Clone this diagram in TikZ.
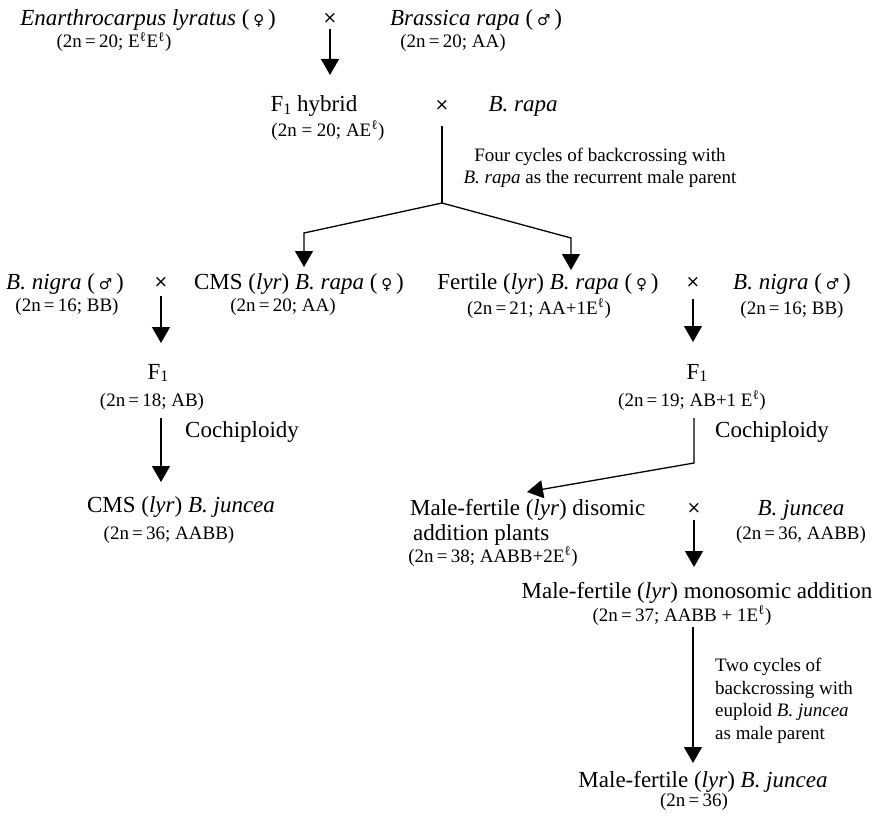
\documentclass[tikz,border=0pt]{standalone}
\usepackage{fontspec}
\setmainfont{Liberation Serif}
\newfontfamily\symfont{DejaVu Sans}
\usetikzlibrary{arrows.meta}
\newcommand{\myfem}{(\,{\symfont\fontsize{15}{15}\selectfont ♀}\,)}
\newcommand{\mymal}{(\,{\symfont\fontsize{15}{15}\selectfont ♂}\,)}
\newcommand{\El}{E\textsuperscript{ℓ}}
\newcommand{\Fone}{F\raisebox{-2.5pt}{\fontsize{16}{16}\selectfont 1}}
\newcommand{\eqs}{\,=\,}
\begin{document}
\begin{tikzpicture}[x=1pt, y={(0pt,-1pt)},
  mainf/.style={font=\fontsize{23}{26}\selectfont, inner sep=0pt, anchor=base},
  subf/.style={font=\fontsize{19}{22.7}\selectfont, inner sep=0pt, anchor=base},
  cross/.style={font=\symfont\fontsize{17}{17}\selectfont, inner sep=0pt},
  ln/.style={line width=1.3pt},
  arr/.style={line width=1.3pt, -{Triangle[width=18pt,length=16pt]}}]
\useasboundingbox (0,0) rectangle (887,816);

% Row 1
\node[mainf] (enar) at (148,26) {\textit{Enarthrocarpus lyratus} \myfem};
\node[subf] (enarsub) at (114,48) {(2n\eqs20; \El\El)};
\node[cross] (x1) at (330,18) {×};
\node[mainf] (brass) at (476,26) {\textit{Brassica rapa} \mymal};
\node[subf] (brasssub) at (453,48) {(2n\eqs20; AA)};
\coordinate (c1) at (330,75);
\draw[arr, shorten <=6pt] (x1.south) -- (c1);

% Row 2
\node[mainf] (f1h) at (314,112) {\Fone{} hybrid};
\node[subf] (f1hsub) at (328,136) {(2n = 20; A\El)};
\node[cross] (x2) at (442,105) {×};
\node[mainf] (brapa) at (523,112) {\textit{B. rapa}};
\node[subf, anchor=center, align=center, font=\fontsize{19}{22.5}\selectfont] (ann1) at (600,168)
  {Four cycles of backcrossing with\\\textit{B. rapa} as the recurrent male parent};
\coordinate (b0) at (442,203);
\coordinate (bl) at (304,233);
\coordinate (bl2) at (304,267);
\coordinate (br) at (571,238);
\coordinate (br2) at (571,270);
\draw[ln, shorten <=16pt] (x2.south) -- (b0);
\draw[arr] (b0) -- (bl) -- (bl2);
\draw[arr] (b0) -- (br) -- (br2);

% Row 3
\node[mainf] (bn1) at (65,289) {\textit{B. nigra} \mymal};
\node[subf] (bn1sub) at (67,311) {(2n\eqs16; BB)};
\node[cross] (x3) at (161,282) {×};
\node[mainf] (cms) at (299,289) {CMS (\textit{lyr}) \textit{B. rapa} \myfem};
\node[subf] (cmssub) at (283,311) {(2n\eqs20; AA)};
\node[mainf] (fert) at (548,289) {Fertile (\textit{lyr}) \textit{B. rapa} \myfem};
\node[subf] (fertsub) at (539,314) {(2n\eqs21; AA+1\El)};
\node[cross] (x4) at (693,282) {×};
\node[mainf] (bn2) at (792,289) {\textit{B. nigra} \mymal};
\node[subf] (bn2sub) at (792,314) {(2n\eqs16; BB)};
\coordinate (e3a) at (161,343);
\coordinate (e4a) at (693,342);
\draw[arr, shorten <=9pt] (x3.south) -- (e3a);
\draw[arr, shorten <=12pt] (x4.south) -- (e4a);

% Row 4
\node[mainf] (f1l) at (158,379) {\Fone};
\node[subf] (f1lsub) at (152,406) {(2n\eqs18; AB)};
\node[mainf, anchor=base west] (coch1) at (185,437) {Cochiploidy};
\node[mainf] (f1r) at (697,379) {\Fone};
\node[subf] (f1rsub) at (692,406) {(2n\eqs19; AB+1 \El)};
\node[mainf, anchor=base west] (coch2) at (715,437) {Cochiploidy};
\coordinate (e3) at (161,482);
\coordinate (r1) at (694,463);
\coordinate (e4) at (527,492);
\draw[arr, shorten <=8pt] (f1lsub.south -| e3) -- (e3);
\draw[arr, shorten <=8pt] (f1rsub.south -| r1) -- (r1) -- (e4);

% Row 5
\node[mainf] (cmsj) at (181,512) {CMS (\textit{lyr}) \textit{B. juncea}};
\node[subf] (cmsjsub) at (169,539) {(2n\eqs36; AABB)};
\node[mainf, anchor=north west, align=left, font=\fontsize{23}{25}\selectfont] (dis) at (410,499)
  {Male-fertile (\textit{lyr}) disomic\\\hspace{3pt}addition plants};
\node[subf] (dissub) at (493,562) {(2n\eqs38; AABB+2\El)};
\node[cross] (x5) at (694,508) {×};
\node[mainf] (bj) at (801,515) {\textit{B. juncea}};
\node[subf] (bjsub) at (801,539) {(2n\eqs36, AABB)};
\coordinate (e5) at (694,567);
\draw[arr, shorten <=7pt] (x5.south) -- (e5);

% Row 6
\node[mainf] (mono) at (697,598) {Male-fertile (\textit{lyr}) monosomic addition};
\node[subf] (monosub) at (682,621) {(2n\eqs37; AABB + 1\El)};
\node[subf, anchor=north west, align=left, font=\fontsize{19}{22.7}\selectfont] (ann2) at (715,658)
  {Two cycles of\\backcrossing with\\euploid \textit{B. juncea}\\as male parent};
\coordinate (e6) at (693,763);
\draw[arr, shorten <=2pt] (monosub.south -| e6) -- (e6);

% Row 7
\node[mainf] (final) at (703,787) {Male-fertile (\textit{lyr}) \textit{B. juncea}};
\node[subf] (finalsub) at (694,806) {(2n\eqs36)};
\end{tikzpicture}
\end{document}
